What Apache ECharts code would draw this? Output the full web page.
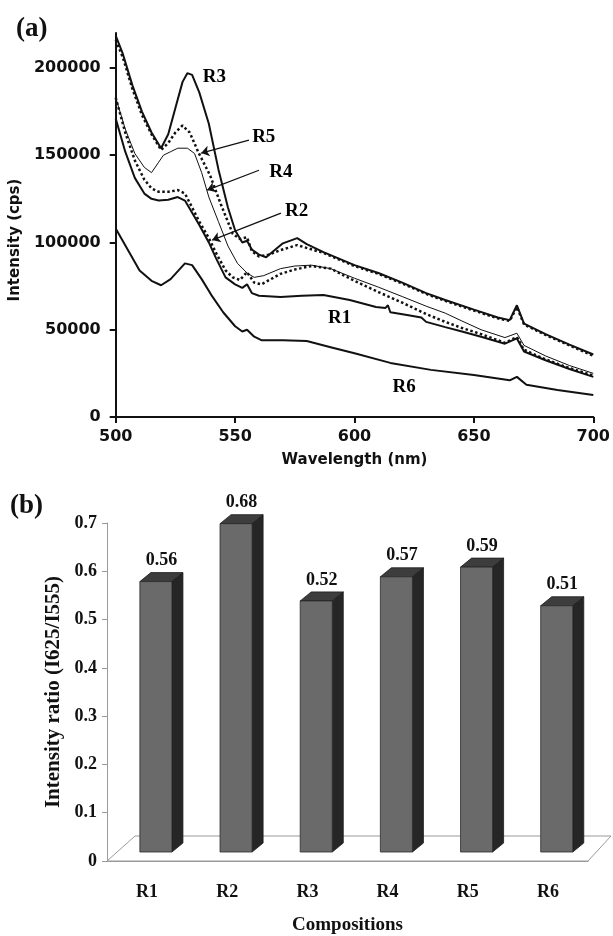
<!DOCTYPE html>
<html>
<head>
<meta charset="utf-8">
<script src="https://cdn.jsdelivr.net/npm/echarts@6/dist/echarts.min.js"></script>
<style>
  html, body { margin: 0; padding: 0; background: #fff; }
  #chart { width: 613px; height: 936px; }
</style>
</head>
<body>
<div id="chart"></div>
<script>
// (a) emission spectra, [wavelength nm, intensity cps]
const r3 = [[500,218500],[503,208000],[507,190000],[511,175000],[515,163000],[519,154000],[522,162000],[525,177000],[528,192000],[530,197000],[532,196000],[535,186000],[539,168000],[543,142000],[547,120000],[550,107000],[553,100000],[555,101000],[557,96000],[560,93000],[563,91500],[566,95000],[570,99500],[576,102500],[580,99000],[587,94500],[600,87000],[610,82500],[620,77000],[630,71000],[638,67000],[650,61500],[660,57000],[665,55500],[668,64000],[671,53500],[680,47500],[690,41500],[700,35800]];
const r5 = [[500,216000],[503,206000],[507,188000],[511,173000],[515,162000],[519,153000],[522,157000],[525,163000],[528,167000],[531,163000],[534.5,152000],[539.5,138500],[544,122000],[549,105000],[552,102000],[555,103000],[557,95000],[560,92000],[564,93000],[569,95600],[576,98500],[587,94000],[600,86500],[610,82000],[620,76500],[630,70500],[638,66500],[650,61000],[660,56500],[665,55000],[668,63000],[671,53000],[680,47000],[690,41000],[700,35000]];
const r4 = [[500,183000],[504,165000],[508,151000],[512,143000],[515,140000],[518,146000],[520,150000],[523,152000],[526,154000],[530,154000],[533,151000],[536,140000],[539,126000],[543,112000],[547,98000],[551,88000],[555,82500],[558,80000],[562,81000],[569,85000],[575,86500],[582,87000],[590,85000],[600,79500],[610,74400],[620,69000],[630,63500],[638,59500],[645,55000],[653,50000],[663,45500],[668,48000],[671,41000],[680,35000],[690,29500],[700,25000]];
const r2 = [[500,183000],[504,163000],[508,147000],[512,136000],[515,131000],[518,129000],[522,129000],[526,130000],[529,128000],[532,120000],[535,112000],[539,102500],[542,94000],[546,84000],[549,80000],[552,78500],[555,83000],[558,77000],[561,76000],[569,82000],[575,84500],[582,86500],[590,85000],[600,78000],[610,71600],[620,65500],[630,59000],[638,54500],[645,51000],[653,47500],[663,42500],[668,45800],[671,38500],[680,33000],[690,28000],[700,23800]];
const r1 = [[500,171000],[504,152000],[508,137000],[512,128000],[515,125000],[518,124000],[522,124500],[526,126000],[529,124000],[532,117000],[535,110000],[539,100000],[542,91000],[546,80000],[550,76000],[553,74000],[555,76000],[557,71000],[560,69500],[569,68700],[578,69500],[587,69900],[598,67000],[609,63000],[613,62500],[614,64000],[615,60000],[622,58400],[628,57000],[630,54500],[638,51500],[645,49000],[653,46000],[663,42000],[668,45000],[671,37500],[680,32500],[690,27500],[700,23000]];
const r6 = [[500,108000],[505,96000],[510,84000],[515,78000],[519,75500],[523,79000],[527,85000],[529,88000],[532,87000],[536,79000],[540,70000],[545,60000],[550,52000],[553,49000],[555,50000],[558,46000],[561,44000],[570,44000],[580,43500],[590,40000],[600,36500],[615,31000],[632,27000],[650,24000],[665,21000],[668,23000],[672,18500],[685,15500],[700,12600]];

const intensityTicks = [0, 50000, 100000, 150000, 200000];

// curve labels and arrows, in data coords
const curveNames = ['R3', 'R5', 'R4', 'R2', 'R1', 'R6'];
const curveNamePos = [[541.3,194700],[562,160300],[569.2,140300],[575.8,118000],[593.8,56700],[620.8,17200]];
const arrows = [
  [[555.8,158600],[535.8,151200]],
  [[560,141400],[538.3,130000]],
  [[569.2,116800],[540.4,101350]]
];

// (b) intensity ratio
const compositions = ['R1', 'R2', 'R3', 'R4', 'R5', 'R6'];
const ratios = [0.56, 0.68, 0.52, 0.57, 0.59, 0.51];

const sans = 'DejaVu Sans';
const serif = 'Liberation Serif';

const chart = echarts.init(document.getElementById('chart'));

function line(name, data, width, type) {
  return {
    name, type: 'line', data, xAxisIndex: 0, yAxisIndex: 0,
    symbol: 'none', smooth: false,
    lineStyle: { color: '#111', width, type: type || 'solid' },
    z: 3
  };
}

// 3D-looking column: front face, right side, top
function renderBar(params, api) {
  const i = api.value(0), v = api.value(1);
  const base = api.coord([i, 0]);
  const top = api.coord([i, v]);
  const band = api.size([1, 0])[0];
  const w = band * 0.4, dx = band * 0.11, sx = 11, sy = 9;
  const x0 = base[0] + dx - w / 2, x1 = x0 + w;
  const yb = base[1] - 9, yt = top[1] - 9;
  return {
    type: 'group',
    children: [
      { type: 'polygon', shape: { points: [[x1, yb], [x1 + sx, yb - sy], [x1 + sx, yt - sy], [x1, yt]] },
        style: { fill: '#262626', stroke: '#1a1a1a', lineWidth: 0.8 } },
      { type: 'polygon', shape: { points: [[x0, yt], [x1, yt], [x1 + sx, yt - sy], [x0 + sx, yt - sy]] },
        style: { fill: '#3d3d3d', stroke: '#1a1a1a', lineWidth: 0.8 } },
      { type: 'rect', shape: { x: x0, y: yt, width: w, height: yb - yt },
        style: { fill: '#6a6a6a', stroke: '#2a2a2a', lineWidth: 0.8 } },
      { type: 'text', x: (x0 + x1) / 2 + sx / 2, y: yt - sy - 3,
        style: { text: v.toFixed(2), fill: '#111', font: 'bold 18px "' + serif + '"', align: 'center', verticalAlign: 'bottom' } }
    ]
  };
}

// floor of the 3D plot
function renderFloor(params, api) {
  const cs = params.coordSys;
  const yb = cs.y + cs.height;
  return {
    type: 'polygon',
    shape: { points: [[cs.x, yb], [cs.x + cs.width, yb], [cs.x + cs.width + 23, yb - 25], [cs.x + 28, yb - 25]] },
    style: { fill: 'none', stroke: '#9a9a9a', lineWidth: 1 }
  };
}

chart.setOption({
  animation: false,
  backgroundColor: '#fff',
  title: [
    { text: '(a)', left: 11, top: 11, textStyle: { fontFamily: serif, fontWeight: 'bold', fontSize: 27, color: '#111' } },
    { text: '(b)', left: 5, top: 488, textStyle: { fontFamily: serif, fontWeight: 'bold', fontSize: 27, color: '#111' } }
  ],
  grid: [
    { left: 115, top: 33, width: 479, height: 384 },
    { left: 107, top: 523, width: 481, height: 338 }
  ],
  xAxis: [
    {
      gridIndex: 0, type: 'value', min: 500, max: 700, interval: 50,
      name: 'Wavelength (nm)', nameLocation: 'middle', nameGap: 36,
      nameTextStyle: { fontFamily: sans, fontWeight: 'bold', fontSize: 15, color: '#111' },
      axisLine: { lineStyle: { color: '#111', width: 2 } },
      axisTick: { length: 6, lineStyle: { color: '#111', width: 2 } },
      axisLabel: { margin: 12, fontFamily: sans, fontWeight: 'bold', fontSize: 16, color: '#111' },
      splitLine: { show: false }
    },
    {
      gridIndex: 1, type: 'category', data: compositions,
      name: 'Compositions', nameLocation: 'middle', nameGap: 55,
      nameTextStyle: { fontFamily: serif, fontWeight: 'bold', fontSize: 19, color: '#111' },
      axisLine: { lineStyle: { color: '#9a9a9a', width: 1 } },
      axisTick: { length: 6, lineStyle: { color: '#9a9a9a' } },
      axisLabel: { margin: 22, fontFamily: serif, fontWeight: 'bold', fontSize: 18, color: '#111' }
    }
  ],
  yAxis: [
    {
      gridIndex: 0, type: 'value', min: 0, max: 220000, interval: 50000,
      name: 'Intensity (cps)', nameLocation: 'middle', nameGap: 84,
      nameTextStyle: { fontFamily: sans, fontWeight: 'bold', fontSize: 15, color: '#111', padding: [0, 30, 0, 0] },
      axisLine: { show: true, lineStyle: { color: '#111', width: 2 } },
      axisTick: { show: true, length: 6, customValues: intensityTicks, lineStyle: { color: '#111', width: 2 } },
      axisLabel: {
        margin: 15, customValues: intensityTicks, formatter: v => String(v),
        fontFamily: sans, fontWeight: 'bold', fontSize: 16, color: '#111'
      },
      splitLine: { show: false }
    },
    {
      gridIndex: 1, type: 'value', min: 0, max: 0.7, interval: 0.1,
      name: 'Intensity ratio (I625/I555)', nameLocation: 'middle', nameGap: 43,
      nameTextStyle: { fontFamily: serif, fontWeight: 'bold', fontSize: 21, color: '#111' },
      axisLine: { show: true, lineStyle: { color: '#9a9a9a', width: 1 } },
      axisTick: { show: true, length: 5, lineStyle: { color: '#9a9a9a' } },
      axisLabel: { margin: 10, fontFamily: serif, fontWeight: 'bold', fontSize: 18, color: '#111' },
      splitLine: { show: false }
    }
  ],
  series: [
    line('R6', r6, 2),
    line('R1', r1, 2),
    line('R2', r2, 2.5, 'dotted'),
    line('R4', r4, 1),
    line('R5', r5, 2.5, 'dotted'),
    line('R3', r3, 2),
    {
      name: 'labels', type: 'scatter', xAxisIndex: 0, yAxisIndex: 0,
      data: curveNamePos.map((p, k) => [p[0], p[1], curveNames[k]]),
      symbolSize: 1, itemStyle: { color: '#fff', opacity: 1 },
      label: {
        show: true, position: 'inside', formatter: p => p.data[2],
        fontFamily: serif, fontWeight: 'bold', fontSize: 19, color: '#000', opacity: 1
      },
      markLine: {
        silent: true, symbol: ['none', 'arrow'], symbolSize: 8,
        label: { show: false },
        lineStyle: { color: '#111', width: 1.2, type: 'solid' },
        data: arrows.map(a => [{ coord: a[0] }, { coord: a[1] }])
      },
      z: 5
    },
    {
      name: 'floor', type: 'custom', xAxisIndex: 1, yAxisIndex: 1,
      data: [[0, 0]], renderItem: renderFloor, z: 1, silent: true
    },
    {
      name: 'ratio', type: 'custom', xAxisIndex: 1, yAxisIndex: 1,
      data: ratios.map((v, i) => [i, v]),
      encode: { x: 0, y: 1 },
      renderItem: renderBar, z: 2
    }
  ]
});
</script>
</body>
</html>
